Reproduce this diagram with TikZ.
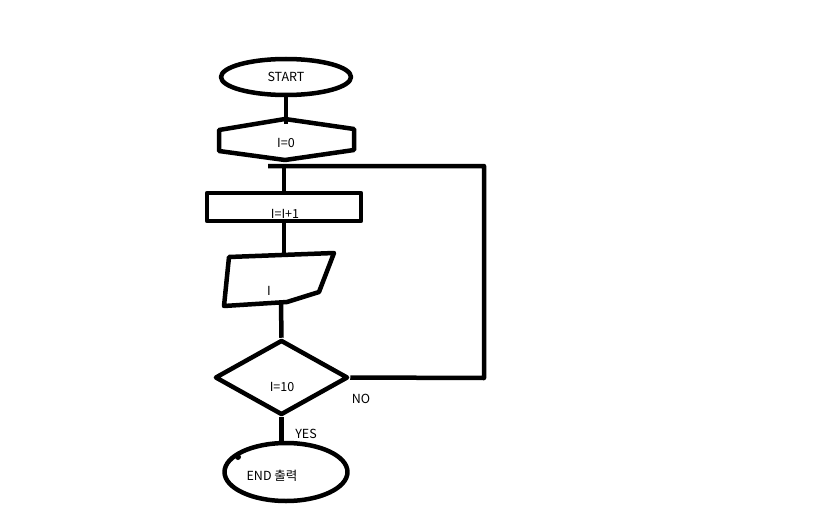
\documentclass[tikz,border=0pt]{standalone}
\usepackage{fontspec}
\setmainfont{Noto Sans CJK KR}
\usetikzlibrary{shapes,calc,positioning}

\begin{document}
\begin{tikzpicture}[x=1pt,y=-1pt,line join=round,
    every node/.style={font=\fontsize{12.5}{14}\selectfont,inner sep=0pt},
    term/.style={ellipse,draw,line width=4.5pt},
    proc/.style={rectangle,draw,line width=4.5pt,minimum width=154pt,minimum height=28pt},
    cond/.style={diamond,draw,line width=4.5pt,minimum width=133pt,minimum height=75pt},
    wire/.style={line width=4.5pt}]
            \useasboundingbox (0,0) rectangle (819,516);
            % terminals
            \draw (286,77) node[term,minimum width=130pt,minimum height=36pt] (start) {START};
            \draw (286,472) node[term,minimum width=123pt,minimum height=58pt] (end) {};
            \draw (272,476) node (endtext) {END 출력};
            \fill (238,457) circle (3pt);
            % init
            \draw[wire] (285,119) -- (219,130) -- (219,151) -- (285,160) -- (354,150) -- (354,129) -- cycle;
            \coordinate (init top) at (286,124);
            \draw (286,143) node (init) {I=0};
            % loop body
            \draw (284,207) node[proc] (inc) {};
            \draw (285,214) node (inctext) {I=I+1};
            \draw[wire] (229,257) -- (334,253) -- (319,292) -- (287,302) -- (224,306) -- cycle;
            \coordinate (out top) at (283,254);
            \coordinate (out bottom) at (281,304);
            \draw (269,291) node (out) {I};
            \draw (281.5,377.5) node[cond] (test) {};
            \draw (282,387) node (testtext) {I=10};
            % loop back
            \coordinate (join) at (268,166);
            \coordinate (mid) at (284,166);
            \coordinate (no corner) at (484,378);
            \coordinate (top corner) at (484,166);
            \path[wire]
            (start.south) edge (init top)
            (mid) edge (inc.north)
            (inc.south) edge (inc.south |- out top)
            (out bottom) edge (test.north)
            (test.south) edge (test.south |- end.north);
            \draw[wire] (test.east) -- (no corner) -- (top corner) -- (join);
            \draw (361,399) node (no) {NO};
            \draw (306,434) node (yes) {YES};
        \end{tikzpicture}
\end{document}
